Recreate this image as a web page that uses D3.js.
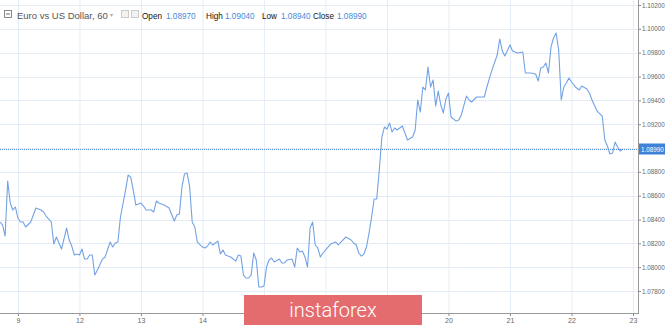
<!DOCTYPE html>
<html>
<head>
<meta charset="utf-8">
<script src="https://cdn.jsdelivr.net/npm/d3@7"></script>
<style>
  body { margin: 0; background: #fff; }
  svg { display: block; font-family: "Liberation Sans", Arial, sans-serif; }
  .grid line { stroke: #e4edf6; stroke-width: 1; }
  .axis text { fill: #666; font-size: 7px; }
  .yaxis text { font-size: 6.3px; }
  .axis line { stroke: #888; }
</style>
</head>
<body>
<svg width="665" height="326"></svg>
<script>
// hourly bar index (0 = first bar on screen) and close price
const bars = [0,1,2,3,4,5,6,7,8,9,10,12,14,16,17,18,20,21,22,23,24,26,27,28,29,30,31,32,33,34,35,36,37,38,40,41,43,44,45,46,47,49,50,51,52,53,55,56,57,59,60,61,62,64,66,68,69,70,71,72,73,74,75,76,77,79,80,81,82,83,85,86,87,88,89,90,92,93,94,95,96,97,98,99,100,101,102,103,104,105,106,107,109,110,111,112,114,115,116,117,118,119,120,121,122,123,124,125,126,128,129,131,132,133,135,137,138,139,140,141,142,143,144,145,146,147,148,149,150,151,152,153,154,155,157,158,159,161,162,163,164,165,166,167,168,169,170,171,172,173,174,175,176,178,179,180,182,183,184,186,188,189,190,191,192,194,195,196,197,199,200,202,204,205,207,209,210,211,212,213,214,215,216,217,218,219,220,221,222,223,225,226,227,229,230,231,233,235,236,237,238,239,240,241,242,243];
const closes = [1.08379,1.08354,1.08261,1.08723,1.08538,1.08480,1.08505,1.08412,1.08379,1.08379,1.08337,1.08379,1.08496,1.08480,1.08463,1.08429,1.08379,1.08194,1.08253,1.08203,1.08152,1.08328,1.08228,1.08177,1.08102,1.08110,1.08102,1.08152,1.08068,1.08068,1.08102,1.08102,1.07934,1.07976,1.08068,1.08085,1.08211,1.08169,1.08203,1.08211,1.08421,1.08647,1.08773,1.08756,1.08647,1.08521,1.08538,1.08513,1.08480,1.08480,1.08463,1.08555,1.08538,1.08521,1.08496,1.08387,1.08438,1.08446,1.08673,1.08782,1.08790,1.08673,1.08379,1.08337,1.08211,1.08169,1.08161,1.08177,1.08211,1.08186,1.08219,1.08110,1.08144,1.08102,1.08093,1.08085,1.08051,1.08102,1.08093,1.07934,1.07909,1.07909,1.07934,1.08119,1.08060,1.07833,1.07833,1.07842,1.08001,1.08060,1.08077,1.08043,1.08068,1.08035,1.08035,1.08060,1.08068,1.08001,1.08161,1.08127,1.08135,1.08085,1.08001,1.08328,1.08379,1.08186,1.08161,1.08085,1.08119,1.08169,1.08194,1.08211,1.08186,1.08211,1.08253,1.08228,1.08203,1.08186,1.08119,1.08093,1.08110,1.08169,1.08286,1.08421,1.08572,1.08572,1.08815,1.09092,1.09176,1.09159,1.09210,1.09134,1.09168,1.09151,1.09185,1.09126,1.09067,1.09092,1.09151,1.09403,1.09302,1.09512,1.09487,1.09680,1.09512,1.09571,1.09352,1.09478,1.09361,1.09294,1.09411,1.09461,1.09260,1.09226,1.09235,1.09277,1.09436,1.09403,1.09386,1.09428,1.09428,1.09428,1.09512,1.09587,1.09655,1.09780,1.09915,1.09814,1.09772,1.09864,1.09814,1.09797,1.09806,1.09629,1.09629,1.09621,1.09562,1.09671,1.09680,1.09713,1.09629,1.09848,1.09923,1.09965,1.09822,1.09403,1.09512,1.09545,1.09587,1.09554,1.09503,1.09487,1.09520,1.09495,1.09461,1.09403,1.09310,1.09268,1.09067,1.09017,1.08950,1.08958,1.09050,1.09008,1.08975,1.08990];

const dayTicks = [7,31,55,79,103,127,151,175,199,223,247];
const dayLabels = ["9","12","13","14","15","16","19","20","21","22","23"];
const priceTicks = [1.078,1.080,1.082,1.084,1.086,1.088,1.090,1.092,1.094,1.096,1.098,1.100,1.102];

const lastPrice = 1.08990;
const ohlc = [["Open","1.08970"],["High","1.09040"],["Low","1.08940"],["Close","1.08990"]];

const svg = d3.select("svg");
const plotRight = 638, plotBottom = 313;
const mark = {x: 244, y: 295, w: 178, h: 30};

const x = d3.scaleLinear().domain([0, 247]).range([0, 633]);
const y = d3.scaleLinear().domain([1.078, 1.102]).range([291, 5]);

// grid
svg.append("g").attr("class", "grid")
  .selectAll("line").data(dayTicks).join("line")
  .attr("x1", d => x(d) + 0.5).attr("x2", d => x(d) + 0.5)
  .attr("y1", 0).attr("y2", plotBottom);
svg.append("g").attr("class", "grid")
  .selectAll("line").data(priceTicks).join("line")
  .attr("x1", 0).attr("x2", plotRight)
  .attr("y1", d => Math.round(y(d)) + 0.5).attr("y2", d => Math.round(y(d)) + 0.5);

// price line
const line = d3.line()
  .x((d, i) => x(bars[i]))
  .y(d => y(d));
svg.append("path")
  .datum(closes)
  .attr("fill", "none")
  .attr("stroke", "#73a2e4")
  .attr("stroke-width", 1.1)
  .attr("stroke-linejoin", "round")
  .attr("d", line);

// last price dotted line
svg.append("line")
  .attr("x1", 0).attr("x2", plotRight)
  .attr("y1", Math.round(y(lastPrice)) + 0.5).attr("y2", Math.round(y(lastPrice)) + 0.5)
  .attr("stroke", "#4a8ad8").attr("stroke-width", 1)
  .attr("stroke-dasharray", "1,1");

// y axis
const yAxis = svg.append("g").attr("class", "axis yaxis")
  .attr("transform", `translate(${plotRight},0)`)
  .call(d3.axisRight(y).tickValues(priceTicks).tickSize(3).tickPadding(1).tickFormat(d3.format(".5f")));
yAxis.select(".domain").remove();
svg.append("line")
  .attr("x1", plotRight + 0.5).attr("x2", plotRight + 0.5)
  .attr("y1", 0).attr("y2", plotBottom)
  .attr("stroke", "#999");

// x axis (labels under the watermark are not drawn)
const xAxis = svg.append("g").attr("class", "axis")
  .attr("transform", `translate(0,${plotBottom})`)
  .call(d3.axisBottom(x).tickValues(dayTicks).tickSize(3).tickPadding(2)
    .tickFormat((d, i) => {
      const px = x(d);
      return (px > mark.x - 4 && px < mark.x + mark.w + 4) ? "" : dayLabels[i];
    }));
xAxis.select(".domain").remove();
svg.append("line")
  .attr("x1", 0).attr("x2", plotRight + 1)
  .attr("y1", plotBottom + 0.5).attr("y2", plotBottom + 0.5)
  .attr("stroke", "#999");

// last price label
const ly = Math.round(y(lastPrice));
svg.append("rect")
  .attr("x", plotRight + 1).attr("y", ly - 5.5)
  .attr("width", 665 - plotRight).attr("height", 11)
  .attr("fill", "#3f82d8");
svg.append("text")
  .attr("x", plotRight + 3).attr("y", ly + 2.5)
  .attr("fill", "#fff").attr("font-size", "6.3px")
  .text(d3.format(".5f")(lastPrice));

// header
const head = svg.append("g");
head.append("rect").attr("x", 4.5).attr("y", 10.5).attr("width", 7).attr("height", 7)
  .attr("fill", "none").attr("stroke", "#888");
head.append("line").attr("x1", 6).attr("x2", 10).attr("y1", 14).attr("y2", 14).attr("stroke", "#666");
head.append("text").attr("x", 17).attr("y", 18.5)
  .attr("font-size", "9.5px").attr("fill", "#555")
  .text("Euro vs US Dollar, 60");
head.append("text").attr("x", 110).attr("y", 17).attr("font-size", "6px").attr("fill", "#aaa").text("▾");
[121, 131].forEach(px => {
  head.append("rect").attr("x", px + 0.5).attr("y", 10.5).attr("width", 7).attr("height", 7)
    .attr("fill", "#f2f2f2").attr("stroke", "#ccc");
});
const ohlcX = [[142, 166], [206, 225], [262, 281], [313, 337]];
ohlc.forEach((d, i) => {
  head.append("text").attr("x", ohlcX[i][0]).attr("y", 18.5)
    .attr("font-size", "8.2px").attr("fill", "#111").text(d[0]);
  head.append("text").attr("x", ohlcX[i][1]).attr("y", 18.5)
    .attr("font-size", "8.2px").attr("fill", "#4a8ad8").text(d[1]);
});

// watermark
svg.append("rect")
  .attr("x", mark.x).attr("y", mark.y).attr("width", mark.w).attr("height", mark.h)
  .attr("fill", "#e46c6f");
svg.append("text")
  .attr("x", mark.x + mark.w / 2).attr("y", 317)
  .attr("text-anchor", "middle")
  .attr("font-family", "Roboto, sans-serif").attr("font-weight", 300)
  .attr("font-size", "20px").attr("fill", "#fff")
  .text("instaforex");
</script>
</body>
</html>
